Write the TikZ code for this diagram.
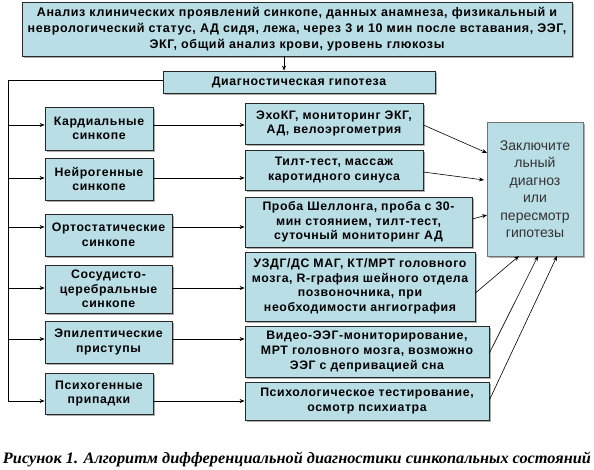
\documentclass[tikz,border=0pt]{standalone}
\usepackage{fontspec}
\setmainfont{Liberation Sans}
\newfontfamily\boxfont[LetterSpace=5]{Liberation Sans}
\newfontfamily\capfont{Liberation Serif}
\usetikzlibrary{arrows.meta,shadows}
\definecolor{boxc}{RGB}{186,222,230}
\definecolor{edgec}{RGB}{40,40,40}
\begin{document}
\begin{tikzpicture}[x=1pt,y=1pt,
  box/.style={draw=edgec,line width=0.8pt,fill=boxc,
    drop shadow={shadow xshift=2pt,shadow yshift=-2pt,fill=black!45,opacity=0.7},
    font=\boxfont\bfseries\fontsize{12.3}{14.6}\selectfont,align=center,inner sep=1pt},
  arr/.style={-{Stealth[length=5pt,width=4pt]},line width=0.6pt,black},
  ln/.style={line width=0.6pt,black}]
\useasboundingbox (0,0) rectangle (594,-470);
% helper: node by corners
\newcommand{\bx}[6][]{\node[box,#1,minimum width=#4-#2,minimum height=#5-#3] (#6) at ({(#2+#4)/2},{-(#3+#5)/2})}
\bx[font=\boxfont\bfseries\fontsize{12.5}{16}\selectfont]{22}{2}{572}{56}{top}{Анализ клинических проявлений синкопе, данных анамнеза, физикальный и\\неврологический статус, АД сидя, лежа, через 3 и 10 мин после вставания, ЭЭГ,\\ЭКГ, общий анализ крови, уровень глюкозы};
\bx{163}{71}{435}{93}{hyp}{Диагностическая гипотеза};
\bx{45}{107}{153}{150}{card}{Кардиальные\\синкопе};
\bx{45}{158}{153}{200}{neur}{Нейрогенные\\синкопе};
\bx{45}{214}{172}{256}{orth}{Ортостатические\\синкопе};
\bx{45}{265}{172}{313}{vasc}{Сосудисто-\\церебральные\\синкопе};
\bx{45}{321}{172}{363}{epi}{Эпилептические\\приступы};
\bx{45}{373}{153}{414}{psy}{Психогенные\\припадки};
\bx{245}{103}{423}{144}{echo}{ЭхоКГ, мониторинг ЭКГ,\\АД, велоэргометрия};
\bx{245}{150}{423}{190}{tilt}{Тилт-тест, массаж\\каротидного синуса};
\bx{245}{197}{472}{247}{shel}{Проба Шеллонга, проба с 30-\\мин стоянием, тилт-тест,\\суточный мониторинг АД};
\bx{245}{252}{475}{321}{uzdg}{УЗДГ/ДС МАГ, КТ/МРТ головного\\мозга, R-графия шейного отдела\\позвоночника, при\\необходимости ангиография};
\bx{245}{326}{489}{377}{eeg}{Видео-ЭЭГ-мониторирование,\\МРТ головного мозга, возможно\\ЭЭГ с депривацией сна};
\bx{245}{382}{489}{420}{test}{Психологическое тестирование,\\осмотр психиатра};
\bx[draw=black!55,font=\fontsize{14}{17.5}\selectfont,text=black!80]{487}{122}{583}{256}{concl}{Заключите\\льный\\диагноз\\или\\пересмотр\\гипотезы};
% top to hypothesis
\draw[arr] (top.south -| 284,0) -- (hyp.north -| 284,0);
% left bus
\coordinate (lt) at (8,-80);
\coordinate (r1) at (8,-125);
\coordinate (r2) at (8,-178);
\coordinate (r3) at (8,-227);
\coordinate (r4) at (8,-288);
\coordinate (r5) at (8,-339);
\coordinate (r6) at (8,-401);
\draw[ln] (hyp.west |- lt) -- (lt) -- (r6);
\foreach \r/\a/\b in {r1/card/echo,r2/neur/tilt,r3/orth/shel,r4/vasc/uzdg,r5/epi/eeg,r6/psy/test}{
  \draw[arr] (\r) -- (\a.west |- \r);
  \draw[arr] (\a.east |- \r) -- (\b.west |- \r);
}
% into conclusion
\coordinate (c1) at (487,-153);
\coordinate (c2) at (484,-180);
\coordinate (c3) at (487,-215);
\coordinate (c4) at (519,-256);
\coordinate (c5) at (538,-256);
\coordinate (c6) at (557,-256);
\draw[arr] (echo.east |- 0,-125) -- (c1);
\draw[arr] (tilt.east |- 0,-172) -- (c2);
\draw[arr] (shel.east |- 0,-219) -- (c3);
\draw[arr] (uzdg.east |- 0,-293) -- (c4);
\draw[arr] (eeg.east |- 0,-353) -- (c5);
\draw[arr] (test.east |- 0,-400) -- (c6);
% caption
\node[anchor=base,inner sep=0] (cap) at (297,-463) {\resizebox{588pt}{11.5pt}{\capfont\bfseries\itshape Рисунок 1. Алгоритм дифференциальной диагностики синкопальных состояний}};
\end{tikzpicture}
\end{document}
